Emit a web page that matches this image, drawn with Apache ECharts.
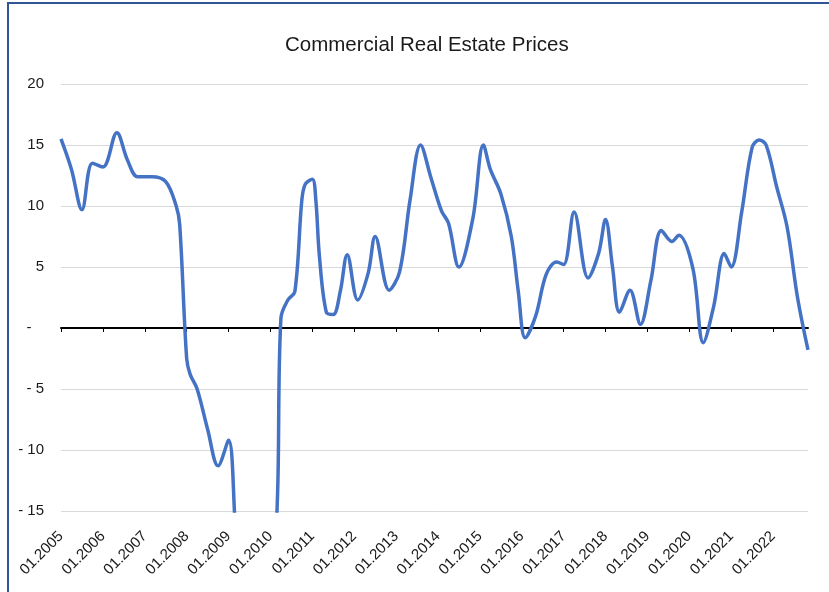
<!DOCTYPE html>
<html>
<head>
<meta charset="utf-8">
<script src="https://cdn.jsdelivr.net/npm/echarts@6/dist/echarts.min.js"></script>
<style>
  html, body { margin: 0; padding: 0; background: #fff; }
  #chart { position: absolute; left: 0; top: 0; width: 829px; height: 592px; }
  #frame {
    position: absolute; left: 7px; top: 2px; width: 900px; height: 700px;
    border-left: 2px solid #2f5597; border-top: 2px solid #2f5597;
    pointer-events: none;
  }
</style>
</head>
<body>
<div id="chart"></div>
<div id="frame"></div>
<script>
// monthly axis, Jan 2005 .. Nov 2022
const firstYear = 2005
const monthCount = 215
const monthLabels = []
for (let i = 0; i < monthCount; i++) {
  const m = i % 12 + 1
  monthLabels.push((m < 10 ? '0' + m : '' + m) + '.' + (firstYear + Math.floor(i / 12)))
}

// points: month offset from 01.2005 and value (%)
const pointMonths = [
  0, 3, 6, 9, 12, 16, 19, 22, 26, 30, 33, 34, 36, 37, 39, 42, 45, 48, 50,
  52, 56, 60, 62, 63, 65, 67, 69, 70, 72, 73, 74, 76, 78, 80, 82, 85, 88, 90,
  94, 97, 100, 103, 106, 109, 111, 114, 118, 121, 123, 126, 129, 131, 133,
  136, 139, 142, 144, 147, 151, 154, 156, 158, 160, 163, 166, 169, 172, 175,
  177, 181, 184, 187, 190, 192, 195, 198, 200, 202, 205, 208, 211, 214
]
const pointValues = [
  15.5, 13.0, 9.7, 13.5, 13.2, 16.0, 13.8, 12.4, 12.4, 12.0, 10.0, 8.5, -2.5, -3.8, -5.0, -8.3, -11.3, -9.2, -16.5,
  -23, -28, -24, -14, 0.8, 2.3, 3.0, 10.5, 11.8, 12.2, 10.5, 6.0, 1.3, 1.1, 3.0, 6.0, 2.3, 4.5, 7.5,
  3.1, 4.6, 10.5, 15.0, 12.3, 9.6, 8.6, 5.0, 9.0, 15.0, 13.0, 11.0, 7.5, 3.0, -0.8,
  1.0, 4.4, 5.4, 5.2, 9.5, 4.1, 6.1, 8.9, 5.0, 1.3, 3.1, 0.3, 3.9, 8.0, 7.1,
  7.6, 4.9, -1.2, 1.8, 6.1, 5.0, 9.5, 14.8, 15.4, 15.0, 11.6, 8.3, 2.5, -1.8
]

const fontName = 'Liberation Sans'

const chart = echarts.init(document.getElementById('chart'))

const yLabel = v => {
  if (v === 0) return '-   '
  if (v < 0) return '- ' + Math.abs(v)
  return '' + v
}

chart.setOption({
  animation: false,
  title: {
    text: 'Commercial Real Estate Prices',
    left: 280,
    top: 30,
    textStyle: { fontFamily: fontName, fontSize: 20.5, fontWeight: 'normal', color: '#1a1a1a' }
  },
  grid: { left: 61, right: 21, top: 84, bottom: 81, containLabel: false },
  xAxis: [
    {
      type: 'category',
      data: monthLabels,
      boundaryGap: false,
      position: 'bottom',
      axisLine: { show: false, onZero: false },
      axisTick: { show: false },
      axisLabel: {
        interval: 11,
        rotate: 45,
        margin: 23,
        fontFamily: fontName,
        fontSize: 15,
        color: '#1a1a1a'
      },
      splitLine: { show: false }
    },
    {
      type: 'category',
      data: monthLabels,
      boundaryGap: false,
      position: 'bottom',
      axisLine: { show: true, onZero: true, lineStyle: { color: '#000', width: 2 } },
      axisTick: { show: true, interval: 11, length: 4, lineStyle: { color: '#000', width: 1 } },
      axisLabel: { show: false },
      splitLine: { show: false }
    }
  ],
  yAxis: {
    type: 'value',
    min: -15,
    max: 20,
    interval: 5,
    axisLine: { show: false },
    axisTick: { show: false },
    axisLabel: {
      margin: 17,
      formatter: yLabel,
      fontFamily: fontName,
      fontSize: 15,
      color: '#1a1a1a'
    },
    splitLine: { lineStyle: { color: '#d9d9d9', width: 1 } }
  },
  series: [
    {
      name: 'Commercial Real Estate Prices',
      type: 'line',
      xAxisIndex: 0,
      smooth: 0.35,
      showSymbol: false,
      symbol: 'none',
      clip: true,
      lineStyle: { color: '#4472c4', width: 3.5 },
      data: pointMonths.map((m, i) => [m, pointValues[i]])
    }
  ]
})
</script>
</body>
</html>
